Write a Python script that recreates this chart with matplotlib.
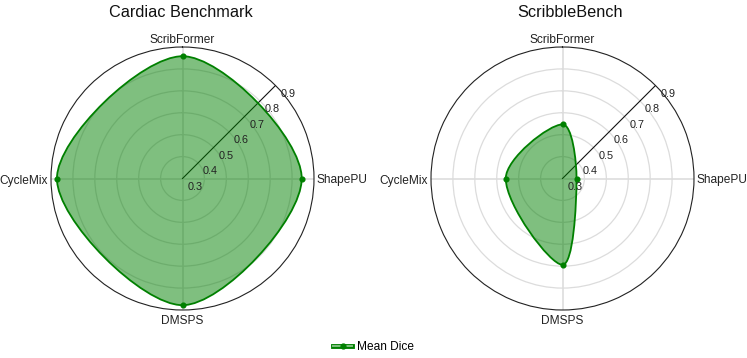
import numpy as np
import matplotlib
matplotlib.use("Agg")
import matplotlib.pyplot as plt
from matplotlib.path import Path
from matplotlib.patches import PathPatch
from matplotlib.lines import Line2D
from matplotlib.legend_handler import HandlerTuple

plt.rcParams['font.family'] = ['Liberation Sans', 'DejaVu Sans']

# data
methods = ["ScribFormer", "ShapePU", "DMSPS", "CycleMix"]
cardiac_dice = [0.858, 0.844, 0.878, 0.873]
scribble_dice = [0.547, 0.364, 0.694, 0.559]
titles = ["Cardiac Benchmark", "ScribbleBench"]
r_ticks = [0.3, 0.4, 0.5, 0.6, 0.7, 0.8, 0.9]

RMIN, RMAX = 0.3, 0.9
TENSION = 0.33
GREEN = '#008000'


def smooth_path(theta, r):
    # chart.js style spline, computed in the flat (display-like) plane
    u = np.asarray(r) - RMIN
    pts = np.column_stack([u * np.cos(theta), u * np.sin(theta)])
    n = len(pts)
    cp_prev, cp_next = [], []
    for i in range(n):
        p0, p1, p2 = pts[i - 1], pts[i], pts[(i + 1) % n]
        d01 = np.hypot(*(p1 - p0))
        d12 = np.hypot(*(p2 - p1))
        s01 = d01 / (d01 + d12)
        s12 = d12 / (d01 + d12)
        cp_prev.append(p1 - TENSION * s01 * (p2 - p0))
        cp_next.append(p1 + TENSION * s12 * (p2 - p0))
    verts = [pts[0]]
    codes = [Path.MOVETO]
    for i in range(n):
        j = (i + 1) % n
        verts += [cp_next[i], cp_prev[j], pts[j]]
        codes += [Path.CURVE4] * 3
    verts = np.array(verts)
    back = np.column_stack([np.arctan2(verts[:, 1], verts[:, 0]),
                            np.hypot(verts[:, 0], verts[:, 1]) + RMIN])
    return Path(back, codes)


fig = plt.figure(figsize=(7.47, 3.58), dpi=100)
ax_w, ax_h = 263 / 747, 263 / 358
centers = [182.5, 562.5]
title_x = [180.5, 570.5]
angles = np.arange(len(methods)) * 2 * np.pi / len(methods)

for k, vals in enumerate([cardiac_dice, scribble_dice]):
    ax = fig.add_axes([(centers[k] - 131.5) / 747, 48 / 358, ax_w, ax_h],
                      projection='polar')
    ax.set_theta_offset(np.pi / 2)
    ax.set_theta_direction(-1)
    ax.set_xticks(angles)
    ax.set_xticklabels([])
    ax.set_yticks(r_ticks[1:-1])
    ax.set_yticklabels([])
    ax.tick_params(length=0)
    ax.xaxis.grid(True, color='#e2e2e2', lw=1.4)
    ax.yaxis.grid(True, color='#dcdcdc', lw=0.9)
    ax.spines['polar'].set_color('#222222')
    ax.spines['polar'].set_linewidth(0.8)

    # radial axis line at 45 degrees
    ax.plot([np.pi / 4, np.pi / 4], [RMIN, RMAX], color='#111111', lw=0.8, zorder=3)
    for v in r_ticks:
        ax.annotate(f"{v:.1f}", xy=(np.pi / 4, v), xytext=(9, -8.1),
                    textcoords='offset points', ha='center', va='baseline',
                    fontsize=7.8, color='#222222', zorder=6)

    path = smooth_path(angles, vals)
    ax.add_patch(PathPatch(path, facecolor=(0, 0.5, 0, 0.5), edgecolor=GREEN,
                           lw=1.3, zorder=4))
    ax.plot(angles, vals, 'o', color=GREEN, ms=3.4, zorder=5)
    ax.set_ylim(RMIN, RMAX)

    offsets = [((0, 3), 'center'), ((1.5, -3.6), 'left'),
               ((0, -10.4), 'center'), ((-2, -3.6), 'right')]
    for name, a, (off, ha) in zip(methods, angles, offsets):
        ax.annotate(name, xy=(a, RMAX), xytext=off, textcoords='offset points',
                    ha=ha, va='baseline', fontsize=8.6, color='#222222',
                    annotation_clip=False)

    fig.text(title_x[k] / 747, 1 - 16.7 / 358, titles[k], ha='center',
             va='baseline', fontsize=11.7, color='#111111')

h_outer = Line2D([], [], color=GREEN, lw=3.5)
h_inner = Line2D([], [], color='#80c080', lw=1.4)
h_dot = Line2D([], [], color=GREEN, marker='o', ms=3.5, ls='none')
fig.legend([(h_outer, h_inner, h_dot)], ["Mean Dice"],
           handler_map={tuple: HandlerTuple(ndivide=1, pad=0)},
           loc='center', bbox_to_anchor=(0.5, 10.5 / 358), frameon=False,
           fontsize=8.6, handlelength=1.6, handletextpad=0.4)

fig.savefig("out.png", dpi=100)
